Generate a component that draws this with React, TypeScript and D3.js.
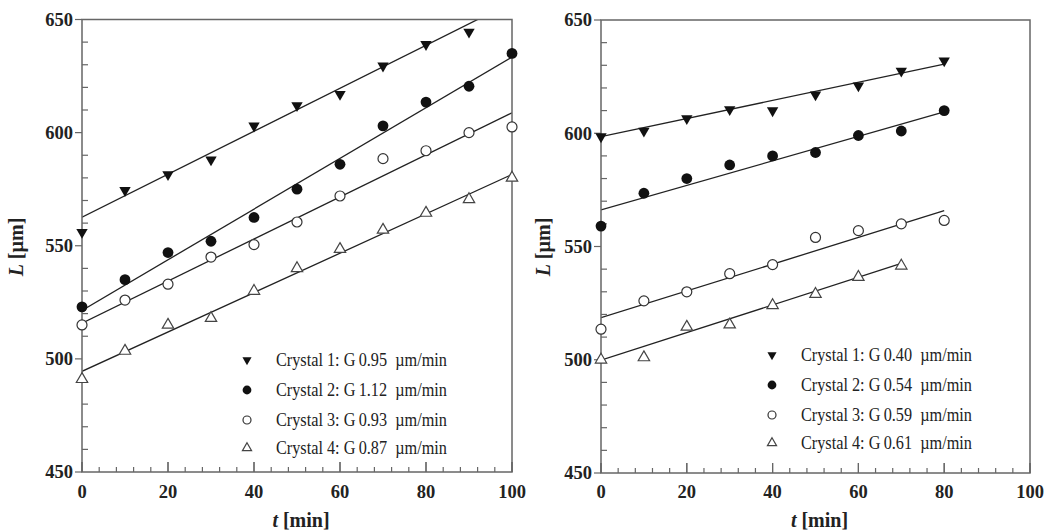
import React, { useRef, useEffect } from 'react';
import * as d3 from 'd3';

// time points (min)
const leftTimes = [0, 10, 20, 30, 40, 50, 60, 70, 80, 90, 100];
const rightTimes = [0, 10, 20, 30, 40, 50, 60, 70, 80];

// crystal sizes L (µm), left experiment
const leftC1 = [556, 574.5, 581.5, 588, 603, 612, 617, 629.5, 639, 644.5];
const leftC2 = [523, 535, 547, 552, 562.5, 575, 586, 603, 613.5, 620.5, 635];
const leftC3 = [515, 526, 533, 545, 550.5, 560.5, 572, 588.5, 592, 600, 602.5];
const leftC4 = [491, 503.5, 515, 518, 530, 540, 548.5, 557, 564.5, 570.5, 580];

// right experiment
const rightC1 = [598.5, 601, 606.5, 610.5, 610, 617, 621, 627.5, 632];
const rightC2 = [559, 573.5, 580, 586, 590, 591.5, 599, 601, 610];
const rightC3 = [513.5, 526, 530, 538, 542, 554, 557, 560, 561.5];
const rightC4 = [500, 501, 514.5, 515.5, 524, 529, 536.5, 541.5];

// fitted growth lines: G = slope, plus intercept and end time
const leftG = [0.95, 1.12, 0.93, 0.87];
const leftIntercept = [562.6, 521.4, 515.8, 494.5];
const leftEnd = [100, 100, 100, 100];
const rightG = [0.4, 0.54, 0.59, 0.61];
const rightIntercept = [598.5, 566.2, 518.6, 499.8];
const rightEnd = [80, 80, 80, 70];

const leftLabels = ['0.95', '1.12', '0.93', '0.87'];
const rightLabels = ['0.40', '0.54', '0.59', '0.61'];

const markers = ['down', 'dot', 'circle', 'up'];

type Panel = {
  id: string;
  x0: number;
  x1: number;
  yTop: number;
  yBot: number;
  times: number[];
  series: number[][];
  G: number[];
  intercept: number[];
  tEnd: number[];
  labels: string[];
  legendX: number;
  legendRows: number[];
  yLabelX: number;
};

const panels: Panel[] = [
  {
    id: 'l', x0: 82, x1: 512, yTop: 19.5, yBot: 472,
    times: leftTimes, series: [leftC1, leftC2, leftC3, leftC4],
    G: leftG, intercept: leftIntercept, tEnd: leftEnd, labels: leftLabels,
    legendX: 247, legendRows: [360, 390, 420, 448], yLabelX: 16,
  },
  {
    id: 'r', x0: 601, x1: 1030, yTop: 20, yBot: 473,
    times: rightTimes, series: [rightC1, rightC2, rightC3, rightC4],
    G: rightG, intercept: rightIntercept, tEnd: rightEnd, labels: rightLabels,
    legendX: 772, legendRows: [355, 385, 415, 443], yLabelX: 543,
  },
];

const serif = '"Liberation Serif", "Times New Roman", "DejaVu Serif", serif';
const axisColor = '#666';
const textColor = '#222';

function drawMarker(g: d3.Selection<SVGGElement, unknown, null, undefined>, kind: string, x: number, y: number, big: boolean) {
  if (kind === 'dot' || kind === 'circle') {
    const r = big ? 5.4 : 4.4;
    g.append('circle')
      .attr('cx', x).attr('cy', y).attr('r', kind === 'circle' ? r - 0.4 : r)
      .attr('fill', kind === 'dot' ? '#111' : '#fff')
      .attr('stroke', kind === 'dot' ? 'none' : '#333')
      .attr('stroke-width', 1.2);
  } else {
    const size = big ? 56 : 36;
    const path = d3.symbol().type(d3.symbolTriangle).size(size)();
    g.append('path')
      .attr('d', path)
      .attr('transform', `translate(${x},${y})${kind === 'down' ? ' rotate(180)' : ''}`)
      .attr('fill', kind === 'down' ? '#111' : '#fff')
      .attr('stroke', kind === 'down' ? 'none' : '#444')
      .attr('stroke-width', 1.2);
  }
}

const App: React.FC = () => {
  const ref = useRef<SVGSVGElement | null>(null);

  useEffect(() => {
    if (!ref.current) return;
    const svg = d3.select(ref.current);
    svg.selectAll('*').remove();

    panels.forEach((p) => {
      const x = d3.scaleLinear().domain([0, 100]).range([p.x0, p.x1]);
      const y = d3.scaleLinear().domain([450, 650]).range([p.yBot, p.yTop]);
      const g = svg.append('g');

      g.append('clipPath').attr('id', `clip-${p.id}`)
        .append('rect')
        .attr('x', p.x0).attr('y', p.yTop)
        .attr('width', p.x1 - p.x0).attr('height', p.yBot - p.yTop);

      // fitted lines
      const fit = d3.line<number>()
        .x(([t]: any) => x(t))
        .y(([, v]: any) => y(v));
      p.G.forEach((G, i) => {
        const pts: any = [
          [0, p.intercept[i]],
          [p.tEnd[i], p.intercept[i] + G * p.tEnd[i]],
        ];
        g.append('path')
          .attr('d', fit(pts))
          .attr('clip-path', `url(#clip-${p.id})`)
          .attr('fill', 'none')
          .attr('stroke', '#222')
          .attr('stroke-width', 1.3);
      });

      // frame
      g.append('rect')
        .attr('x', p.x0).attr('y', p.yTop)
        .attr('width', p.x1 - p.x0).attr('height', p.yBot - p.yTop)
        .attr('fill', 'none').attr('stroke', axisColor).attr('stroke-width', 1.5);

      // y ticks
      d3.range(450, 651, 10).forEach((v) => {
        const major = v % 50 === 0;
        g.append('line')
          .attr('x1', major ? p.x0 - 7 : p.x0).attr('x2', major ? p.x0 : p.x0 + 6)
          .attr('y1', y(v)).attr('y2', y(v))
          .attr('stroke', axisColor).attr('stroke-width', 1.2);
        if (major) {
          g.append('text')
            .attr('x', p.x0 - 9).attr('y', y(v))
            .attr('dy', '0.34em')
            .attr('text-anchor', 'end')
            .attr('font-family', serif).attr('font-weight', 'bold').attr('font-size', 18.5)
            .attr('fill', textColor)
            .text(v);
        }
      });

      // x ticks
      d3.range(0, 101, 4).concat(d3.range(0, 101, 20)).forEach((v) => {
        const major = v % 20 === 0;
        g.append('line')
          .attr('x1', x(v)).attr('x2', x(v))
          .attr('y1', p.yBot).attr('y2', p.yBot - (major ? 10 : 5))
          .attr('stroke', axisColor).attr('stroke-width', 1.2);
      });
      d3.range(0, 101, 20).forEach((v) => {
        g.append('text')
          .attr('x', x(v)).attr('y', 497.5)
          .attr('text-anchor', 'middle')
          .attr('font-family', serif).attr('font-weight', 'bold').attr('font-size', 18.5)
          .attr('fill', textColor)
          .text(v);
      });

      // axis titles
      const xt = g.append('text')
        .attr('x', (p.x0 + p.x1) / 2 + 4).attr('y', 527)
        .attr('text-anchor', 'middle')
        .attr('font-family', serif).attr('font-weight', 'bold').attr('font-size', 20)
        .attr('fill', textColor);
      xt.append('tspan').attr('font-style', 'italic').text('t');
      xt.append('tspan').text(' [min]');

      const yt = g.append('text')
        .attr('transform', `translate(${p.yLabelX},247) rotate(-90)`)
        .attr('text-anchor', 'middle')
        .attr('dy', '0.35em')
        .attr('font-family', serif).attr('font-weight', 'bold').attr('font-size', 20)
        .attr('fill', textColor);
      yt.append('tspan').attr('font-style', 'italic').text('L');
      yt.append('tspan').text(' [µm]');

      // data points
      p.series.forEach((vals, i) => {
        vals.forEach((v, j) => drawMarker(g, markers[i], x(p.times[j]), y(v), true));
      });

      // legend
      p.labels.forEach((lab, i) => {
        const ry = p.legendRows[i];
        drawMarker(g, markers[i], p.legendX, ry, false);
        g.append('text')
          .attr('x', p.legendX + 29).attr('y', ry)
          .attr('dy', '0.33em')
          .attr('font-family', serif).attr('font-size', 18.5)
          .attr('fill', textColor)
          .attr('textLength', 171).attr('lengthAdjust', 'spacingAndGlyphs')
          .style('white-space', 'pre')
          .text(`Crystal ${i + 1}: G\u2009${lab}\u00a0\u00a0µm/min`);
      });
    });
  }, []);

  return (
    <svg
      ref={ref}
      width={1045}
      height={531}
      style={{ position: 'absolute', left: 0, top: 0, background: '#fff' }}
    />
  );
};

export default App;
